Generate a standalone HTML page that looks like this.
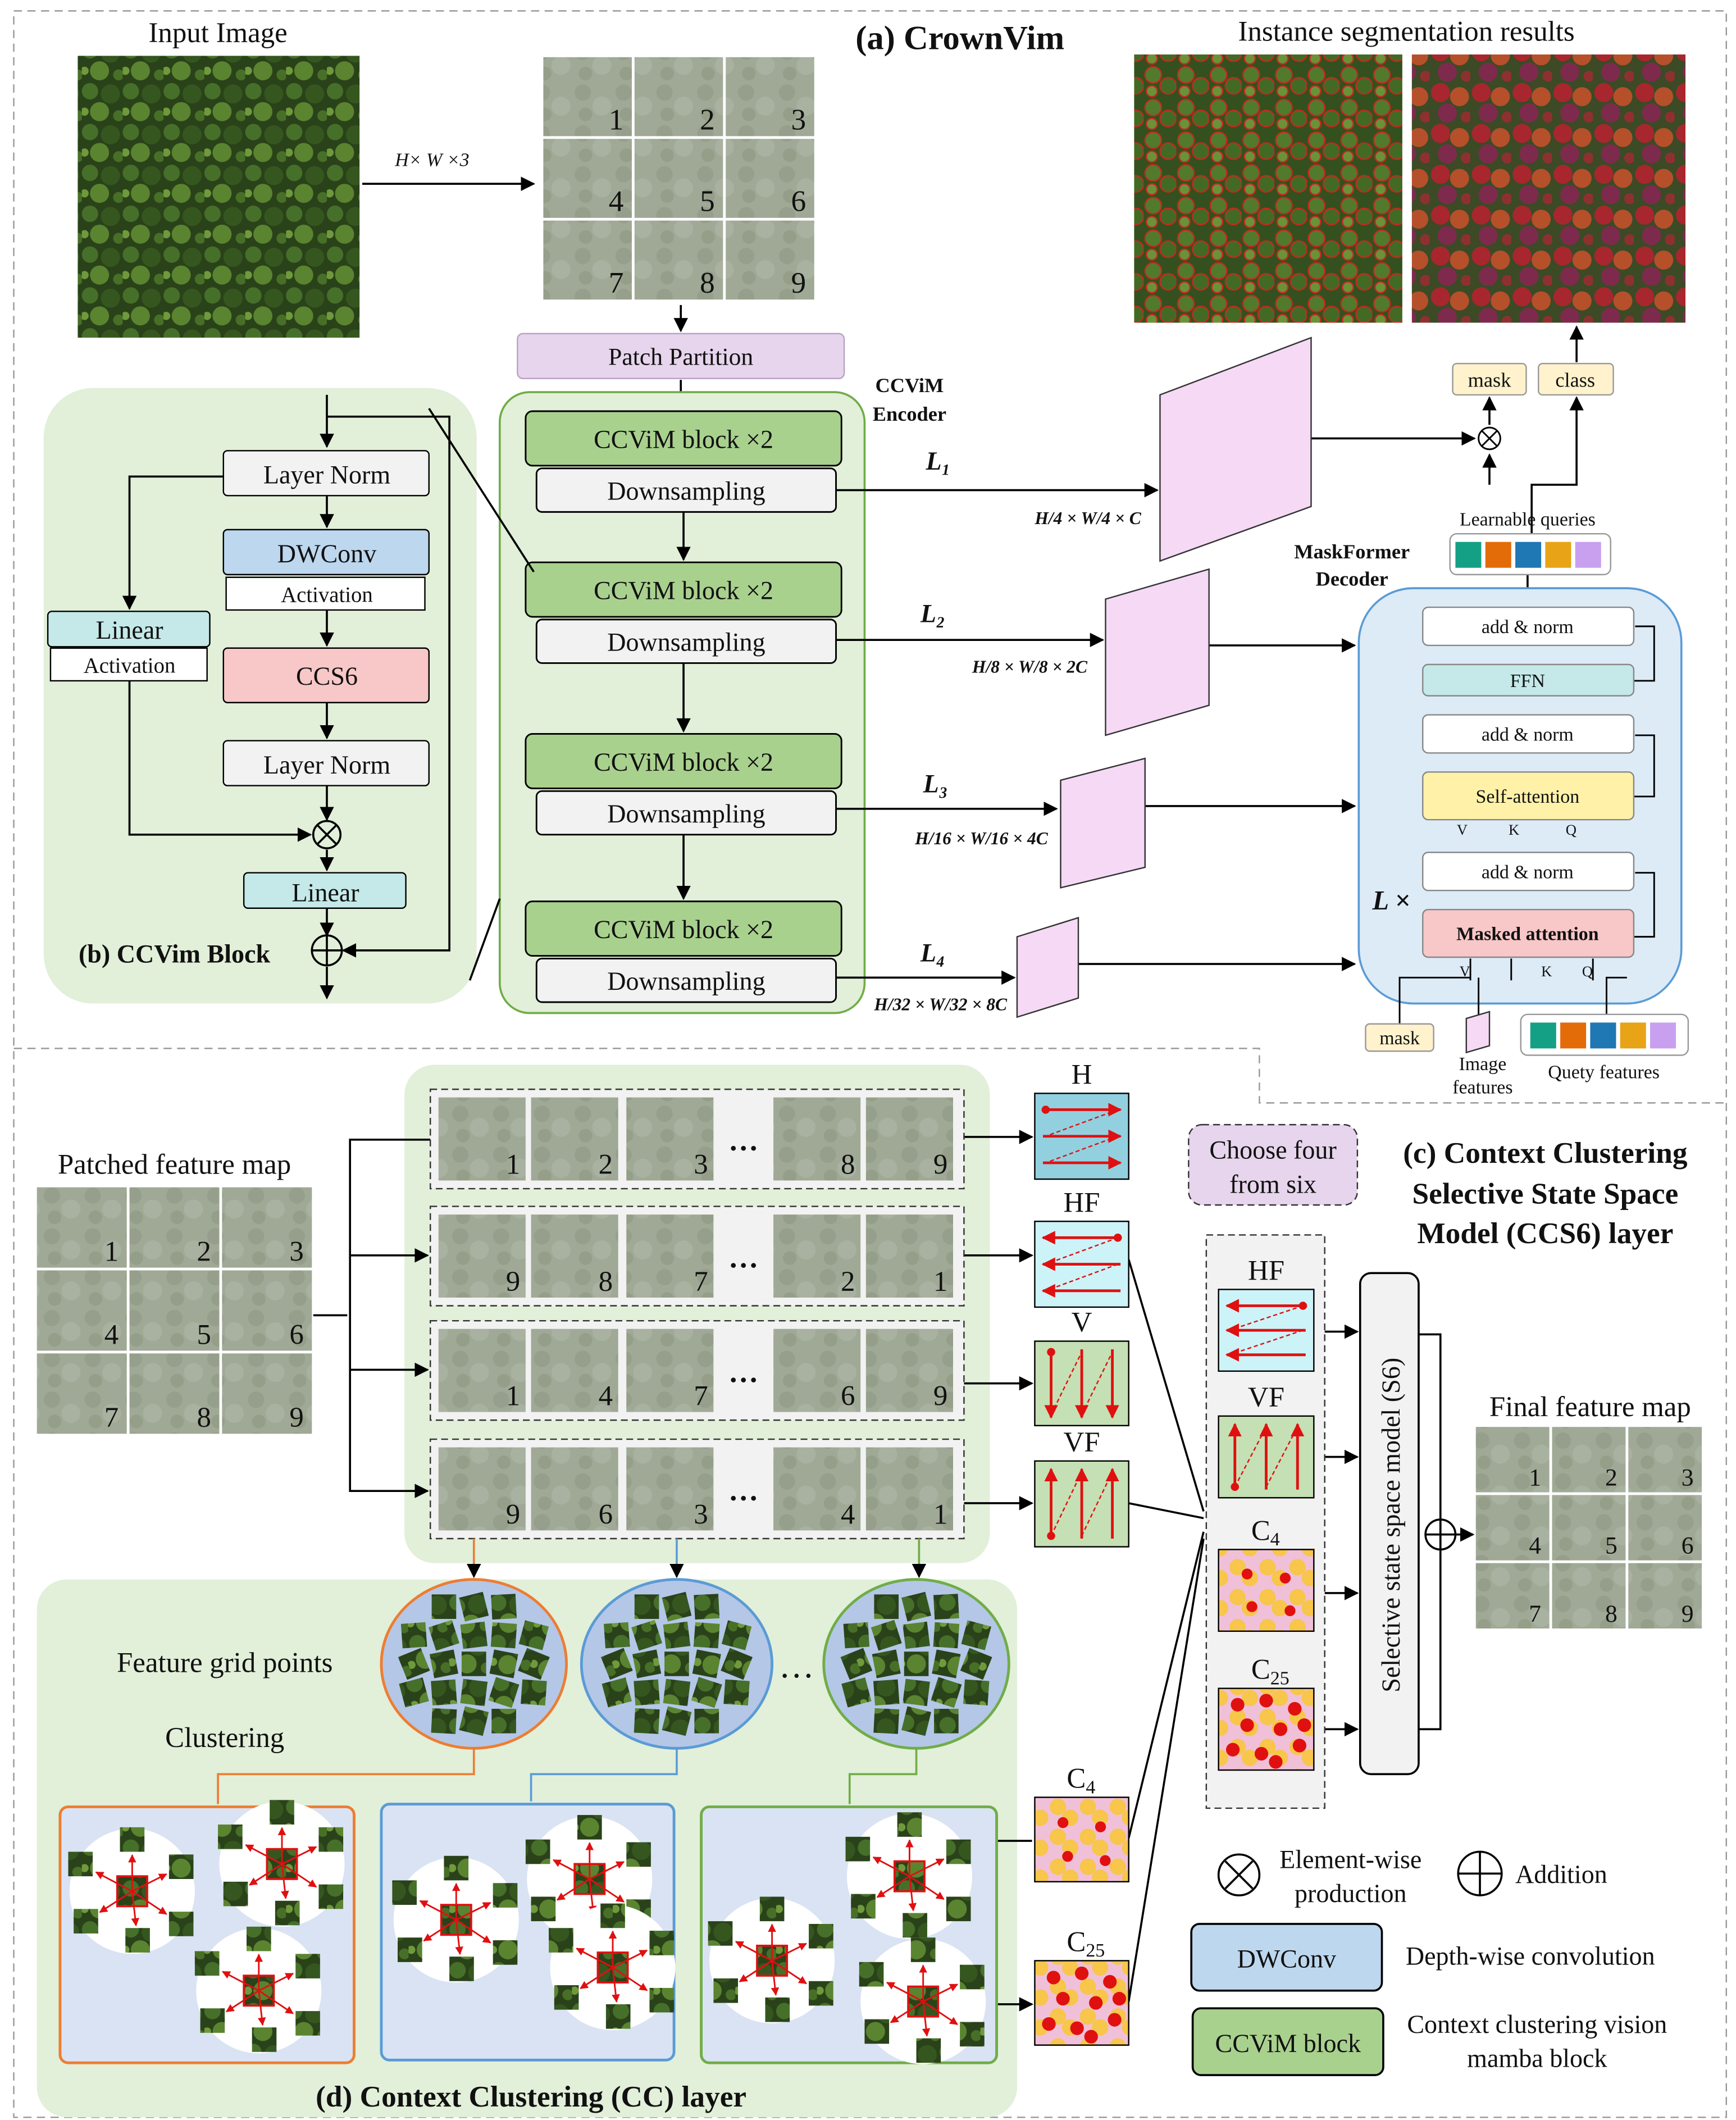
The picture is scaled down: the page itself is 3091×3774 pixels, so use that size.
<!DOCTYPE html>
<html><head><meta charset="utf-8"><style>
html,body{margin:0;padding:0;background:#fff}
svg{display:block}
text{font-family:"Liberation Serif",serif;fill:#111}
.b{font-weight:bold}
</style></head><body>
<svg id="fig" width="3091" height="3774" viewBox="0 0 1275 1557" xmlns="http://www.w3.org/2000/svg">
<defs>
<pattern id="forest" width="30" height="30" patternUnits="userSpaceOnUse">
<rect width="30" height="30" fill="#2a4219"/>
<circle cx="6" cy="7" r="6" fill="#46702a"/><circle cx="21" cy="9" r="7" fill="#35571f"/>
<circle cx="13" cy="22" r="7" fill="#5a8430"/><circle cx="27" cy="25" r="4" fill="#486f28"/>
<circle cx="2" cy="22" r="3" fill="#6f9a3c"/>
</pattern>
<pattern id="tile" width="30" height="30" patternUnits="userSpaceOnUse">
<rect width="30" height="30" fill="#a0a996"/>
<circle cx="8" cy="8" r="6" fill="#969f8b"/><circle cx="22" cy="18" r="7" fill="#a9b1a0"/>
<circle cx="10" cy="24" r="5" fill="#949e89"/>
</pattern>
<pattern id="seg" width="24" height="24" patternUnits="userSpaceOnUse">
<rect width="24" height="24" fill="#34501e"/>
<circle cx="7" cy="7" r="6" fill="#527a2c" stroke="#c8281e" stroke-width="1"/>
<circle cx="18" cy="15" r="6" fill="#436a25" stroke="#c8281e" stroke-width="1"/>
<circle cx="6" cy="19" r="4" fill="#6a9238" stroke="#c8281e" stroke-width="1"/>
</pattern>
<pattern id="mask" width="30" height="30" patternUnits="userSpaceOnUse">
<rect width="30" height="30" fill="#3c4a26"/>
<circle cx="8" cy="8" r="7" fill="#a8262e"/><circle cx="22" cy="11" r="7" fill="#b5502a"/>
<circle cx="13" cy="23" r="7" fill="#7e2a4d"/><circle cx="27" cy="26" r="4" fill="#8f3030"/>
</pattern>
<pattern id="blob" width="22" height="22" patternUnits="userSpaceOnUse">
<rect width="22" height="22" fill="#f0c0d8"/>
<circle cx="7" cy="7" r="6" fill="#f7c64a"/><circle cx="16" cy="15" r="6" fill="#f7c64a"/>
</pattern>
<marker id="ar" viewBox="0 0 10 10" refX="9" refY="5" markerWidth="7" markerHeight="7" orient="auto"><path d="M0,0L10,5L0,10z" fill="#000"/></marker>
<marker id="rr" viewBox="0 0 10 10" refX="9" refY="5" markerWidth="5" markerHeight="5" orient="auto"><path d="M0,0L10,5L0,10z" fill="#e01010"/></marker>
</defs>

<rect x="10" y="8" width="1258" height="1547" fill="none" stroke="#999" stroke-dasharray="6,4"/>
<path d="M10,770H925V810H1268" fill="none" stroke="#999" stroke-dasharray="6,4"/>

<text x="160" y="31" font-size="21" text-anchor="middle">Input Image</text>
<rect x="57" y="41" width="207" height="207" fill="url(#forest)"/>
<line x1="266" y1="135" x2="392" y2="135" stroke="#000" stroke-width="1.5" marker-end="url(#ar)"/>
<text x="290" y="122" font-size="14" font-style="italic">H× W ×3</text>
<g id="grid1"></g>
<line x1="500" y1="224" x2="500" y2="243" stroke="#000" stroke-width="1.5" marker-end="url(#ar)"/>
<text x="705" y="36" font-size="25" class="b" text-anchor="middle">(a) CrownVim</text>
<text x="1033" y="30" font-size="21" text-anchor="middle">Instance segmentation results</text>
<rect x="833" y="40" width="197" height="197" fill="url(#seg)"/>
<rect x="1037" y="40" width="201" height="197" fill="url(#mask)"/>

<rect x="380" y="245" width="240" height="33" rx="4" fill="#e6d5ec" stroke="#b9a3c4"/>
<text x="500" y="268" font-size="18" text-anchor="middle">Patch Partition</text>
<line x1="500" y1="279" x2="500" y2="300" stroke="#000" stroke-width="1.5" marker-end="url(#ar)"/>
<text x="668" y="288" font-size="15" class="b" text-anchor="middle">CCViM</text>
<text x="668" y="309" font-size="15" class="b" text-anchor="middle">Encoder</text>

<rect x="367" y="288" width="268" height="456" rx="22" fill="#e2efd9" stroke="#70ad47" stroke-width="1.5"/>
<g id="enc"></g>

<rect x="32" y="285" width="318" height="452" rx="36" fill="#e2efd9"/>
<g fill="none" stroke="#000" stroke-width="1.5">
<path d="M240,290V328" marker-end="url(#ar)"/>
<path d="M240,306H330V698H252" marker-end="url(#ar)"/>
<path d="M164,350H95V447" marker-end="url(#ar)"/>
<path d="M240,364V387" marker-end="url(#ar)"/>
<path d="M240,448V474" marker-end="url(#ar)"/>
<path d="M240,516V542" marker-end="url(#ar)"/>
<path d="M240,577V602" marker-end="url(#ar)"/>
<path d="M95,500V613H228" marker-end="url(#ar)"/>
<path d="M240,624V639" marker-end="url(#ar)"/>
<path d="M240,667V687" marker-end="url(#ar)"/>
<path d="M240,710V733" marker-end="url(#ar)"/>
<path d="M315,300L392,420M345,720L367,660"/>
</g>
<rect x="164" y="331" width="151" height="33" rx="3" fill="#f2f2f2" stroke="#000"/><text x="240" y="355" font-size="19" text-anchor="middle">Layer Norm</text>
<rect x="164" y="389" width="151" height="33" rx="3" fill="#bdd7ee" stroke="#000"/><text x="240" y="413" font-size="19" text-anchor="middle">DWConv</text>
<rect x="166" y="424" width="146" height="24" fill="#fff" stroke="#000"/><text x="240" y="442" font-size="16" text-anchor="middle">Activation</text>
<rect x="35" y="449" width="119" height="26" rx="3" fill="#c5e9e9" stroke="#000"/><text x="95" y="469" font-size="19" text-anchor="middle">Linear</text>
<rect x="37" y="476" width="115" height="24" fill="#fff" stroke="#000"/><text x="95" y="494" font-size="16" text-anchor="middle">Activation</text>
<rect x="164" y="476" width="151" height="40" rx="3" fill="#f8c7c7" stroke="#000"/><text x="240" y="503" font-size="19" text-anchor="middle">CCS6</text>
<rect x="164" y="544" width="151" height="33" rx="3" fill="#f2f2f2" stroke="#000"/><text x="240" y="568" font-size="19" text-anchor="middle">Layer Norm</text>
<g fill="none" stroke="#000" stroke-width="1.5"><circle cx="240" cy="613" r="10"/><path d="M233,606L247,620M247,606L233,620"/></g>
<rect x="179" y="641" width="119" height="26" rx="3" fill="#c5e9e9" stroke="#000"/><text x="239" y="662" font-size="19" text-anchor="middle">Linear</text>
<g fill="none" stroke="#000" stroke-width="1.5"><circle cx="240" cy="698" r="11"/><path d="M229,698H251M240,687V709"/></g>
<text x="128" y="707" font-size="19" class="b" text-anchor="middle">(b) CCVim Block</text>

<g stroke="#000" stroke-width="1.5" fill="none">
<path d="M614,360H850" marker-end="url(#ar)"/>
<path d="M614,470H810" marker-end="url(#ar)"/>
<path d="M614,594H776" marker-end="url(#ar)"/>
<path d="M614,718H745" marker-end="url(#ar)"/>
<path d="M963,322H1083" marker-end="url(#ar)"/>
<path d="M888,474H995" marker-end="url(#ar)"/>
<path d="M841,592H995" marker-end="url(#ar)"/>
<path d="M792,708H995" marker-end="url(#ar)"/>
<path d="M1094,356V334" marker-end="url(#ar)"/>
<path d="M1094,312V292" marker-end="url(#ar)"/>
<path d="M1125,392V356H1158V292" marker-end="url(#ar)"/>
<path d="M1158,266V240" marker-end="url(#ar)"/>
<path d="M1122,432V422"/>
</g>
<polygon points="852,290 963,248 963,372 852,412" fill="#f5d9f5" stroke="#333"/>
<polygon points="812,440 888,418 888,518 812,540" fill="#f5d9f5" stroke="#333"/>
<polygon points="779,573 841,557 841,637 779,652" fill="#f5d9f5" stroke="#333"/>
<polygon points="747,688 792,674 792,733 747,747" fill="#f5d9f5" stroke="#333"/>
<g font-style="italic" class="b" font-size="19">
<text x="680" y="345" class="b">L₁</text>
<text x="676" y="457" class="b">L₂</text>
<text x="678" y="582" class="b">L₃</text>
<text x="676" y="706" class="b">L₄</text>
</g>
<g font-size="13" font-style="italic" class="b">
<text x="760" y="385">H/4 × W/4 × C</text>
<text x="714" y="494">H/8 × W/8 × 2C</text>
<text x="672" y="620">H/16 × W/16 × 4C</text>
<text x="642" y="742">H/32 × W/32 × 8C</text>
</g>

<text x="993" y="410" font-size="15" class="b" text-anchor="middle">MaskFormer</text>
<text x="993" y="430" font-size="15" class="b" text-anchor="middle">Decoder</text>
<rect x="998" y="432" width="237" height="305" rx="40" fill="#ddebf7" stroke="#5b9bd5" stroke-width="1.5"/>
<g fill="none" stroke="#000" stroke-width="1.2">
<path d="M1122,703V668M1080,720V704M1110,720V704M1170,720V704"/>
<path d="M1122,654V626M1122,602V580M1122,553V525M1122,511V488M1122,474V446"/>
<path d="M1200,688H1215V641H1201M1200,585H1215V540H1201M1200,500H1215V460H1201"/>
<path d="M1028,752V718H1080M1086,745V718M1180,745V718H1195"/>
</g>
<g id="dec"></g>
<text x="1008" y="668" font-size="20" class="b" font-style="italic">L ×</text>
<text x="1122" y="386" font-size="14" text-anchor="middle">Learnable queries</text>
<rect x="1065" y="392" width="118" height="30" rx="5" fill="#fff" stroke="#999"/>
<g id="q1"></g>
<rect x="1067" y="267" width="54" height="23" rx="3" fill="#fff2cc" stroke="#999"/><text x="1094" y="284" font-size="15" text-anchor="middle">mask</text>
<rect x="1130" y="267" width="55" height="23" rx="3" fill="#fff2cc" stroke="#999"/><text x="1157" y="284" font-size="15" text-anchor="middle">class</text>
<g fill="none" stroke="#000" stroke-width="1.2"><circle cx="1094" cy="322" r="8"/><path d="M1088,316L1100,328M1100,316L1088,328"/></g>
<rect x="1003" y="752" width="50" height="20" rx="3" fill="#fff2cc" stroke="#999"/><text x="1028" y="767" font-size="14" text-anchor="middle">mask</text>
<polygon points="1077,748 1094,743 1094,768 1077,773" fill="#f5d9f5" stroke="#333"/>
<text x="1089" y="786" font-size="14" text-anchor="middle">Image</text><text x="1089" y="803" font-size="14" text-anchor="middle">features</text>
<rect x="1117" y="745" width="123" height="30" rx="5" fill="#fff" stroke="#999"/>
<g id="q2"></g>
<text x="1178" y="792" font-size="14" text-anchor="middle">Quety features</text>

<text x="128" y="862" font-size="21" text-anchor="middle">Patched feature map</text>
<g id="grid2"></g>
<rect x="297" y="782" width="430" height="366" rx="22" fill="#e2efd9"/>
<g fill="none" stroke="#000" stroke-width="1.5">
<path d="M230,966H255"/><path d="M316,837H257V1095H314" marker-end="url(#ar)"/>
<path d="M257,922H314" marker-end="url(#ar)"/><path d="M257,1006H314" marker-end="url(#ar)"/>
<path d="M708,835H758" marker-end="url(#ar)"/><path d="M708,922H758" marker-end="url(#ar)"/>
<path d="M708,1016H758" marker-end="url(#ar)"/><path d="M708,1104H758" marker-end="url(#ar)"/>
<path d="M829,925L884,1110M829,1104L884,1115M829,1350L884,1125M829,1470L884,1130"/>
<path d="M964,978H997" marker-end="url(#ar)"/><path d="M964,1070H997" marker-end="url(#ar)"/>
<path d="M964,1170H997" marker-end="url(#ar)"/><path d="M964,1270H997" marker-end="url(#ar)"/>
<path d="M1042,980H1058V1270H1042M1058,1115V1116M1069,1127H1082" marker-end="url(#ar)"/>
</g>
<g id="rows"></g>
<rect x="873" y="826" width="124" height="59" rx="10" fill="#e6d5ec" stroke="#333" stroke-dasharray="5,3"/>
<text x="935" y="851" font-size="19" text-anchor="middle">Choose four</text><text x="935" y="876" font-size="19" text-anchor="middle">from six</text>
<g font-size="22" class="b" text-anchor="middle">
<text x="1135" y="854">(c) Context Clustering</text><text x="1135" y="884">Selective State Space</text><text x="1135" y="913">Model (CCS6) layer</text></g>
<rect x="886" y="907" width="87" height="421" fill="#f2f2f2" stroke="#333" stroke-dasharray="5,3"/>
<rect x="999" y="935" width="43" height="368" rx="8" fill="#f2f2f2" stroke="#000" stroke-width="1.5"/>
<text x="1028" y="1120" font-size="19" text-anchor="middle" transform="rotate(-90 1028 1120)">Selective state space model (S6)</text>
<g fill="none" stroke="#000" stroke-width="1.5"><circle cx="1058" cy="1127" r="11"/><path d="M1047,1127H1069M1058,1116V1138"/></g>
<text x="1168" y="1040" font-size="21" text-anchor="middle">Final feature map</text>
<g id="grid3"></g>
<g id="icons"></g>

<rect x="27" y="1160" width="720" height="395" rx="22" fill="#e2efd9"/>
<text x="165" y="1228" font-size="21" text-anchor="middle">Feature grid points</text>
<text x="165" y="1283" font-size="21" text-anchor="middle">Clustering</text>
<g fill="none" stroke-width="1.5">
<path d="M348,1130V1158" stroke="#ed7d31" marker-end="url(#ar)"/><path d="M497,1130V1158" stroke="#5b9bd5" marker-end="url(#ar)"/><path d="M675,1130V1158" stroke="#70ad47" marker-end="url(#ar)"/>
<path d="M348,1284V1303H160V1325" stroke="#ed7d31"/><path d="M497,1284V1303H390V1323" stroke="#5b9bd5"/><path d="M673,1284V1303H624V1325" stroke="#70ad47"/>
<path d="M732,1352H758M732,1472H758" stroke="#000" marker-end="url(#ar)"/>
</g>
<ellipse cx="348" cy="1222" rx="68" ry="62" fill="#b4c7e7" stroke="#ed7d31" stroke-width="2"/>
<ellipse cx="497" cy="1222" rx="70" ry="62" fill="#b4c7e7" stroke="#5b9bd5" stroke-width="2"/>
<ellipse cx="673" cy="1222" rx="68" ry="62" fill="#b4c7e7" stroke="#70ad47" stroke-width="2"/>
<text x="585" y="1232" font-size="26" text-anchor="middle">…</text>
<rect x="44" y="1327" width="216" height="188" rx="6" fill="#dae3f3" stroke="#ed7d31" stroke-width="2"/>
<rect x="280" y="1325" width="215" height="188" rx="6" fill="#dae3f3" stroke="#5b9bd5" stroke-width="2"/>
<rect x="515" y="1327" width="217" height="188" rx="6" fill="#dae3f3" stroke="#70ad47" stroke-width="2"/>
<g id="clusters"></g>
<g id="dots"></g>
<g id="icons2"></g>
<text x="390" y="1547" font-size="22" class="b" text-anchor="middle">(d) Context Clustering (CC) layer</text>

<g fill="none" stroke="#000" stroke-width="1.5"><circle cx="910" cy="1377" r="15"/><path d="M900,1367L920,1387M920,1367L900,1387"/><circle cx="1087" cy="1376" r="16"/><path d="M1071,1376H1103M1087,1360V1392"/></g>
<text x="992" y="1372" font-size="19" text-anchor="middle">Element-wise</text><text x="992" y="1397" font-size="19" text-anchor="middle">production</text>
<text x="1113" y="1383" font-size="19">Addition</text>
<rect x="875" y="1413" width="140" height="49" rx="6" fill="#bdd7ee" stroke="#000" stroke-width="1.5"/><text x="945" y="1445" font-size="19" text-anchor="middle">DWConv</text>
<text x="1124" y="1443" font-size="19" text-anchor="middle">Depth-wise convolution</text>
<rect x="876" y="1475" width="140" height="49" rx="6" fill="#a9d18e" stroke="#000" stroke-width="1.5"/><text x="946" y="1507" font-size="19" text-anchor="middle">CCViM block</text>
<text x="1129" y="1493" font-size="19" text-anchor="middle">Context clustering vision</text><text x="1129" y="1518" font-size="19" text-anchor="middle">mamba block</text>
</svg>
<script>
const NS="http://www.w3.org/2000/svg";
function mk(tag,attrs,parent,txt){const e=document.createElementNS(NS,tag);for(const k in attrs)e.setAttribute(k,attrs[k]);if(txt!==undefined)e.textContent=txt;parent.appendChild(e);return e;}
function grid(id,x,y,w,h,gap,fs){const g=document.getElementById(id);for(let i=0;i<9;i++){const c=i%3,r=Math.floor(i/3);const cx=x+c*(w+gap),cy=y+r*(h+gap);
const t=mk('rect',{x:cx,y:cy,width:w,height:h,fill:'url(#tile)'},g);


mk('text',{x:cx+w-6,y:cy+h-5,'font-size':fs,'text-anchor':'end'},g,String(i+1));}}
grid('grid1',399,42,65,58,2,22);
grid('grid2',27,872,66,59,2,21);
grid('grid3',1084,1048,54,48,2,18);
const enc=document.getElementById('enc');
const encY=[302,413,539,662];
encY.forEach((y,i)=>{
const b=mk('rect',{x:386,y:y,width:232,height:40,rx:5,fill:'#a9d18e',stroke:'#000','stroke-width':1.2},enc);


mk('text',{x:502,y:y+27,'font-size':19,'text-anchor':'middle'},enc,'CCViM block ×2');
const d=mk('rect',{x:394,y:y+42,width:220,height:32,rx:4,fill:'#f2f2f2',stroke:'#000','stroke-width':1.2},enc);


mk('text',{x:504,y:y+65,'font-size':19,'text-anchor':'middle'},enc,'Downsampling');
if(i<3)mk('line',{x1:502,y1:y+74,x2:502,y2:encY[i+1]-2,stroke:'#000','stroke-width':1.5,'marker-end':'url(#ar)'},enc);
});
const dec=document.getElementById('dec');
[[446,28,'#fff','add & norm'],[488,23,'#c5e9e9','FFN'],[525,28,'#fff','add & norm'],[567,35,'#fff2a8','Self-attention'],[626,28,'#fff','add & norm'],[668,35,'#f8c7c7','Masked attention']].forEach(([y,h,f,t])=>{
const r=mk('rect',{x:1045,y:y,width:155,height:h,rx:4,fill:f,stroke:'#888'},dec);


mk('text',{x:1122,y:y+h/2+5,'font-size':14,'text-anchor':'middle','font-weight':t==='Masked attention'?'bold':'normal'},dec,t);});
mk('text',{x:1070,y:613,'font-size':11},dec,'V');mk('text',{x:1108,y:613,'font-size':11},dec,'K');mk('text',{x:1150,y:613,'font-size':11},dec,'Q');
mk('text',{x:1072,y:717,'font-size':11},dec,'V');mk('text',{x:1132,y:717,'font-size':11},dec,'K');mk('text',{x:1162,y:717,'font-size':11},dec,'Q');
const qc=['#14a085','#e36c09','#1f77b4','#e8a317','#c9a0f0'];
[['q1',1069,398],['q2',1124,751]].forEach(([id,x,y])=>{const g=document.getElementById(id);qc.forEach((c,i)=>mk('rect',{x:x+i*22,y:y,width:19,height:19,fill:c},g));});
const rows=document.getElementById('rows');
const rowY=[800,886,970,1057];
const rowNums=[['1','2','3','8','9'],['9','8','7','2','1'],['1','4','7','6','9'],['9','6','3','4','1']];
rowY.forEach((y,ri)=>{
const r=mk('rect',{x:316,y:y,width:392,height:73,fill:'#f2f2f2',stroke:'#333','stroke-dasharray':'5,3'},rows);


const xs=[322,390,460,568,636];
xs.forEach((x,i)=>{mk('rect',{x:x,y:y+6,width:64,height:61,fill:'url(#tile)'},rows);
mk('text',{x:x+60,y:y+62,'font-size':21,'text-anchor':'end'},rows,rowNums[ri][i]);});
mk('text',{x:546,y:y+45,'font-size':22,'text-anchor':'middle','font-weight':'bold'},rows,'…');
});
function icon(gid,x,y,w,h,kind,label,bg){
const icons=document.getElementById(gid);
const r=mk('rect',{x:x,y:y,width:w,height:h,fill:bg,stroke:'#000'},icons);


const red={stroke:'#e01010','stroke-width':2,fill:'none','marker-end':'url(#rr)'};
const dash={stroke:'#e01010','stroke-width':1,'stroke-dasharray':'3,2'};
if(kind==='H'||kind==='HF'){for(let k=0;k<3;k++){const yy=y+12+k*(h-24)/2;
if(kind==='H')mk('line',Object.assign({x1:x+6,y1:yy,x2:x+w-6,y2:yy},red),icons);else mk('line',Object.assign({x1:x+w-6,y1:yy,x2:x+6,y2:yy},red),icons);
if(k<2)mk('line',Object.assign({x1:x+w-8,y1:yy,x2:x+8,y2:yy+(h-24)/2},dash),icons);}
mk('circle',{cx:kind==='H'?x+8:x+w-8,cy:y+12,r:3,fill:'#e01010'},icons);}
else if(kind==='V'||kind==='VF'){for(let k=0;k<3;k++){const xx=x+12+k*(w-24)/2;
if(kind==='V')mk('line',Object.assign({x1:xx,y1:y+6,x2:xx,y2:y+h-6},red),icons);else mk('line',Object.assign({x1:xx,y1:y+h-6,x2:xx,y2:y+6},red),icons);
if(k<2)mk('line',Object.assign({x1:xx,y1:y+h-8,x2:xx+(w-24)/2,y2:y+8},dash),icons);}
mk('circle',{cx:x+12,cy:kind==='V'?y+8:y+h-8,r:3,fill:'#e01010'},icons);}
else{const pts=kind==='C4'?[[.3,.3],[.7,.35],[.35,.7],[.75,.75]]:[[.2,.2],[.5,.15],[.8,.25],[.3,.45],[.65,.5],[.15,.75],[.45,.8],[.85,.7],[.6,.9],[.9,.45]];
r.setAttribute('fill','url(#blob)');pts.forEach(p=>mk('circle',{cx:x+p[0]*w,cy:y+p[1]*h,r:kind==='C4'?4:5,fill:'#e01010'},icons));}
if(label==='C4'||label==='C25'){mk('text',{x:x+w/2-4,y:y-7,'font-size':21,'text-anchor':'middle'},icons,'C');mk('text',{x:x+w/2+3,y:y-3,'font-size':14},icons,label.slice(1));}
else mk('text',{x:x+w/2,y:y-7,'font-size':21,'text-anchor':'middle'},icons,label);
}
icon('icons',760,803,69,63,'H','H','#92d0e0');
icon('icons',760,897,69,63,'HF','HF','#ccf3f8');
icon('icons',760,985,69,62,'V','V','#c5e0b4');
icon('icons',760,1073,69,63,'VF','VF','#c5e0b4');
icon('icons',895,947,70,60,'HF','HF','#ccf3f8');
icon('icons',895,1040,70,60,'VF','VF','#c5e0b4');
icon('icons',895,1138,70,60,'C4','C4','#fff');
icon('icons',895,1240,70,60,'C25','C25','#fff');
icon('icons2',760,1320,69,62,'C4','C4','#fff');
icon('icons2',760,1440,69,62,'C25','C25','#fff');
const dots=document.getElementById('dots');
[[348,1222],[497,1222],[673,1222]].forEach(([cx,cy])=>{
for(let r=-2;r<=2;r++)for(let c=-2;c<=2;c++){if(Math.abs(r)+Math.abs(c)>3)continue;
mk('rect',{x:cx+c*22-9,y:cy+r*21-9,width:18,height:18,fill:'url(#forest)',transform:`rotate(${(r*7+c*11)%25} ${cx+c*22} ${cy+r*21})`},dots);}});
const cl=document.getElementById('clusters');
const centers=[[97,1389],[207,1369],[190,1462],[335,1410],[433,1380],[450,1445],[567,1440],[668,1378],[678,1470]];
centers.forEach(([cx,cy])=>{
mk('circle',{cx:cx,cy:cy,r:46,fill:'#fff'},cl);
mk('rect',{x:cx-11,y:cy-11,width:22,height:22,fill:'url(#forest)',stroke:'#e01010','stroke-width':1.5},cl);
[[-38,-20],[0,-38],[36,-18],[-34,22],[4,36],[36,24]].forEach(([dx,dy])=>{
mk('line',{x1:cx,y1:cy,x2:cx+dx*0.7,y2:cy+dy*0.7,stroke:'#e01010','stroke-width':1.2,'marker-end':'url(#rr)'},cl);
mk('rect',{x:cx+dx-9,y:cy+dy-9,width:18,height:18,fill:'url(#forest)'},cl);});
});
</script>
</body></html>
